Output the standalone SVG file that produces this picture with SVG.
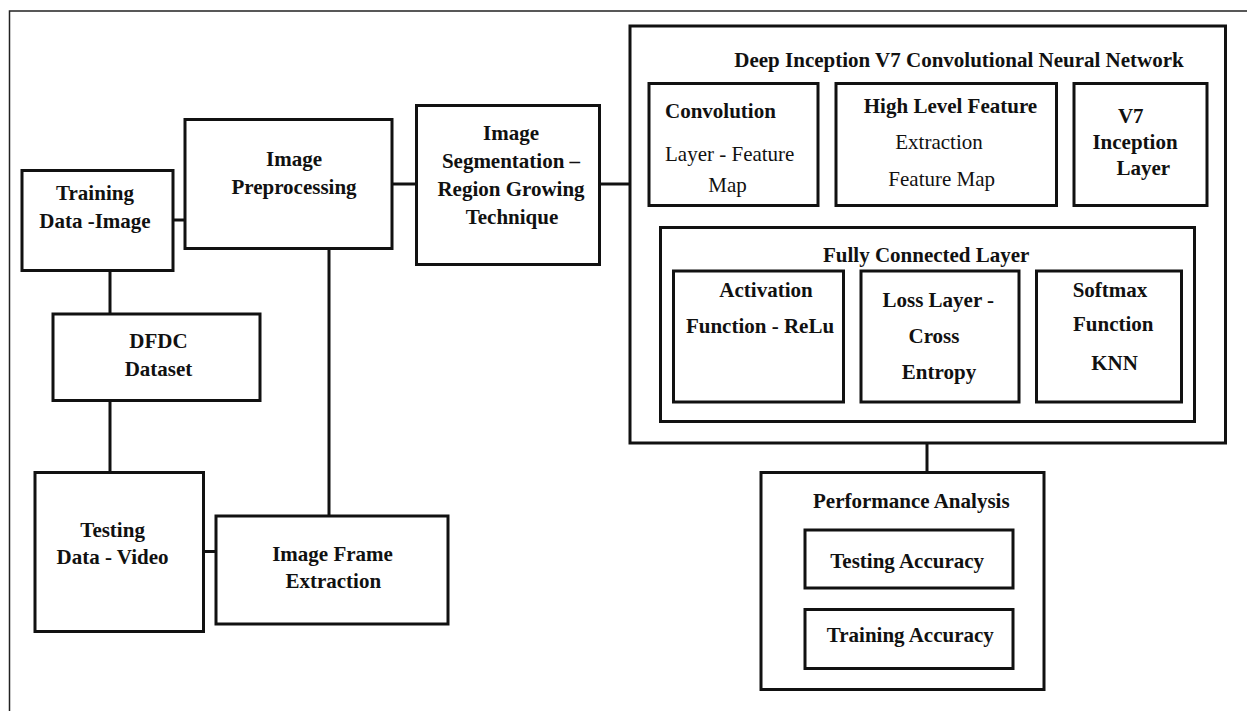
<svg xmlns="http://www.w3.org/2000/svg" width="1247" height="711" viewBox="0 0 1247 711">
<style>
rect.b{fill:#fff;stroke:#111;stroke-width:3}
rect.c{fill:none;stroke:#111;stroke-width:3}
.frame{fill:none;stroke:#222;stroke-width:1.5}
#connectors path{fill:none;stroke:#111;stroke-width:3}
text{font-family:"Liberation Serif","Times New Roman",serif;font-size:21px;fill:#111}
text.t{font-weight:bold;text-anchor:middle}
text.r{font-weight:normal}
text.bs{font-weight:bold}
</style>
<rect x="0" y="0" width="1247" height="711" fill="#fff"/>
<path class="frame" d="M9.5,711 V11 H1247"/>
<g id="connectors">
<path d="M173,220 H185"/>
<path d="M392,184 H416.5"/>
<path d="M599.5,184 H630"/>
<path d="M110,270.5 V314"/>
<path d="M110,400.5 V472.5"/>
<path d="M203.5,551.5 H216"/>
<path d="M329,248.5 V516"/>
<path d="M927,443 V472.5"/>
</g>
<g id="training-data-image">
<rect class="b" x="22" y="170.5" width="151" height="100"/>
<text class="t" x="95" y="200">Training</text>
<text class="t" x="95" y="228">Data -Image</text>
</g>
<g id="image-preprocessing">
<rect class="b" x="185" y="119.5" width="207" height="129"/>
<text class="t" x="294" y="166">Image</text>
<text class="t" x="294" y="194">Preprocessing</text>
</g>
<g id="image-segmentation">
<rect class="b" x="416.5" y="105.5" width="183" height="159"/>
<text class="t" x="511" y="140">Image</text>
<text class="t" x="511" y="168">Segmentation –</text>
<text class="t" x="511" y="196">Region Growing</text>
<text class="t" x="512" y="224">Technique</text>
</g>
<g id="deep-inception-cnn">
<rect class="b" x="630" y="26" width="595.5" height="417"/>
<text class="t" x="959" y="66.7">Deep Inception V7 Convolutional Neural Network</text>
</g>
<g id="convolution">
<rect class="c" x="649" y="83.5" width="169" height="122"/>
<text class="bs" x="665" y="118">Convolution</text>
<text class="r" x="665" y="160.5">Layer - Feature</text>
<text class="r" x="708.3" y="191.5">Map</text>
</g>
<g id="high-level-feature">
<rect class="c" x="836" y="83.5" width="220.5" height="122"/>
<text class="t" x="950.5" y="113.3">High Level Feature</text>
<text class="r" x="939" y="149" text-anchor="middle">Extraction</text>
<text class="r" x="941.7" y="185.7" text-anchor="middle">Feature Map</text>
</g>
<g id="v7-inception-layer">
<rect class="c" x="1074" y="83.5" width="133" height="122"/>
<text class="t" x="1130.8" y="122.7">V7</text>
<text class="t" x="1135" y="149">Inception</text>
<text class="t" x="1143.3" y="175">Layer</text>
</g>
<g id="fully-connected-layer">
<rect class="c" x="660.5" y="227.5" width="534" height="194"/>
<text class="t" x="926.2" y="261.7">Fully Connected Layer</text>
</g>
<g id="activation-function">
<rect class="c" x="673.5" y="271" width="170" height="131"/>
<text class="t" x="766" y="297.3">Activation</text>
<text class="t" x="760" y="332.7">Function - ReLu</text>
</g>
<g id="loss-layer">
<rect class="c" x="861" y="271" width="158" height="131"/>
<text class="t" x="938.3" y="306.5">Loss Layer -</text>
<text class="t" x="934" y="342.7">Cross</text>
<text class="t" x="939" y="378.5">Entropy</text>
</g>
<g id="softmax-function">
<rect class="c" x="1036.5" y="271" width="145" height="131"/>
<text class="t" x="1110" y="297">Softmax</text>
<text class="t" x="1113.3" y="331">Function</text>
<text class="t" x="1114.5" y="369.5">KNN</text>
</g>
<g id="performance-analysis">
<rect class="b" x="761" y="472.5" width="283" height="217"/>
<text class="t" x="911.3" y="508.3">Performance Analysis</text>
</g>
<g id="testing-accuracy">
<rect class="c" x="805" y="530" width="208" height="58"/>
<text class="t" x="907.2" y="568.3">Testing Accuracy</text>
</g>
<g id="training-accuracy">
<rect class="c" x="805" y="609.5" width="208" height="59"/>
<text class="t" x="910.3" y="642.3">Training Accuracy</text>
</g>
<g id="dfdc-dataset">
<rect class="b" x="53" y="314" width="207" height="86.5"/>
<text class="t" x="158.4" y="347.7">DFDC</text>
<text class="t" x="158.5" y="376">Dataset</text>
</g>
<g id="testing-data-video">
<rect class="b" x="35" y="472.5" width="168.5" height="159"/>
<text class="t" x="112.6" y="536.7">Testing</text>
<text class="t" x="112.6" y="564">Data - Video</text>
</g>
<g id="image-frame-extraction">
<rect class="b" x="216" y="516" width="232" height="108"/>
<text class="t" x="332.5" y="561">Image Frame</text>
<text class="t" x="333.3" y="587.7">Extraction</text>
</g>
</svg>
